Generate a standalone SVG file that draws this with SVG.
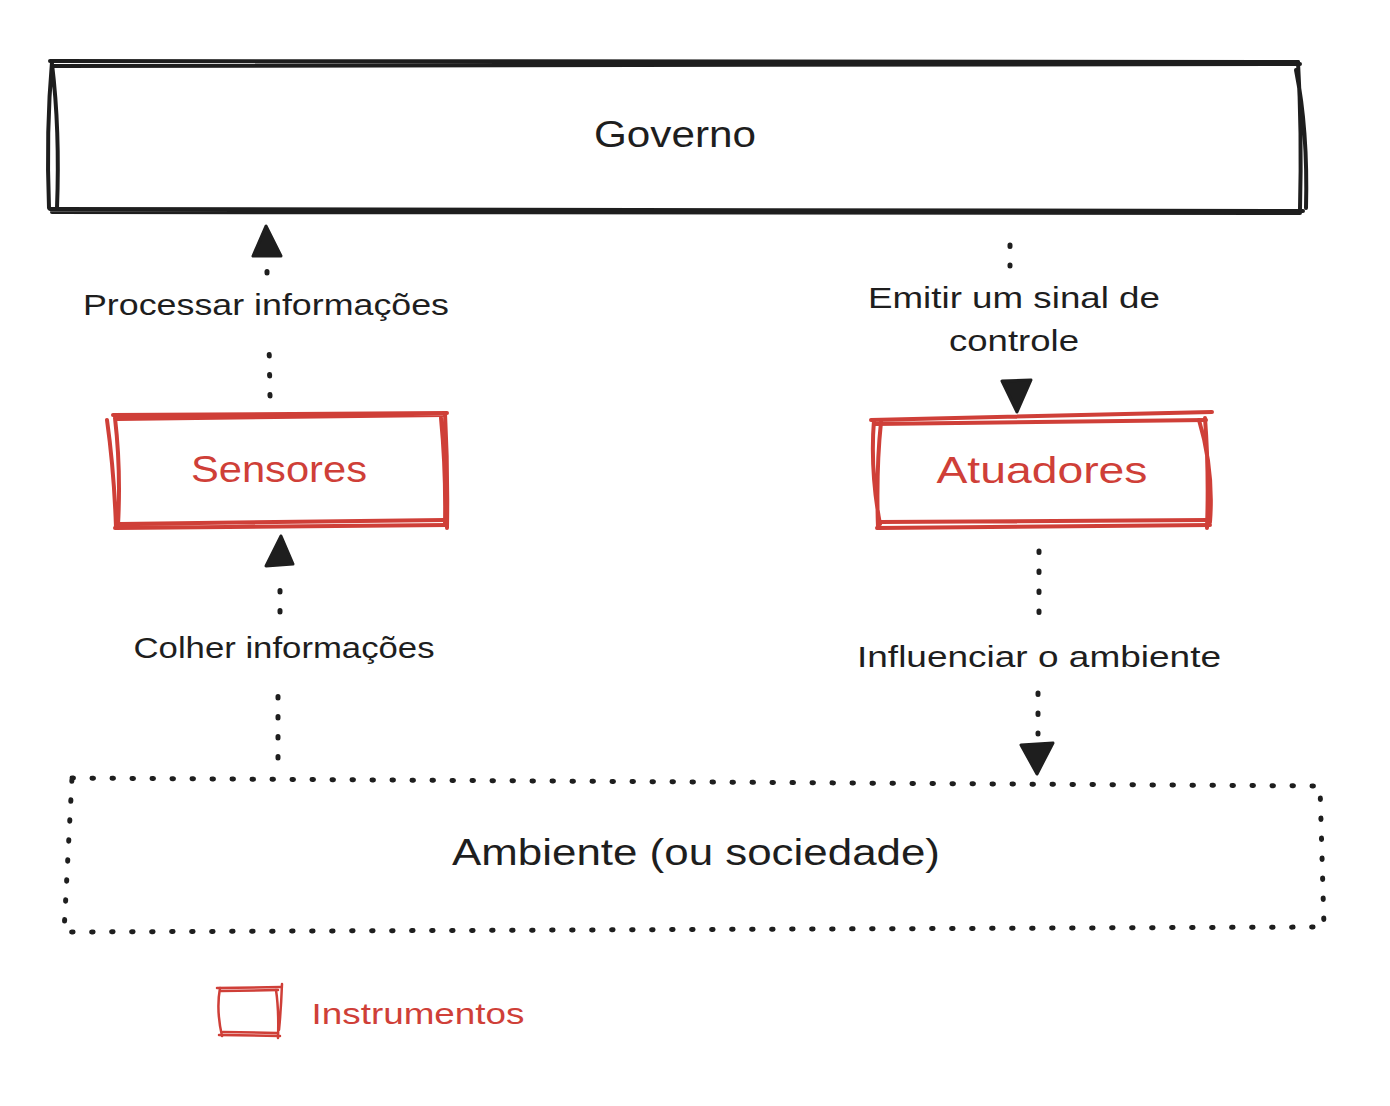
<svg xmlns="http://www.w3.org/2000/svg" width="1390" height="1106" viewBox="0 0 1390 1106">
<style>
.blk{fill:none;stroke:#1e1e1e;stroke-width:4;stroke-linecap:round;stroke-linejoin:round}
.red{fill:none;stroke:#cf3f38;stroke-width:4;stroke-linecap:round;stroke-linejoin:round}
.redt{fill:none;stroke:#cf3f38;stroke-width:2.5;stroke-linecap:round;stroke-linejoin:round}
.dot{fill:none;stroke:#1e1e1e;stroke-width:5;stroke-linecap:round;stroke-dasharray:1.5 18.5}
.head{fill:#1e1e1e;stroke:#1e1e1e;stroke-width:3;stroke-linejoin:round}
text{font-family:"Liberation Sans","DejaVu Sans",sans-serif;text-anchor:middle;dominant-baseline:central}
.lbl{font-size:29px;fill:#1e1e1e}
.big{font-size:36px;fill:#1e1e1e}
.rt{font-size:36px;fill:#cf3f38}
</style>
<rect width="1390" height="1106" fill="#ffffff"/>
<g id="governo">
<path class="blk" d="M50 61 L1298 62 M52 66 L1300 64 M50 209 L1303 211 M52 212 L1300 213"/>
<path class="blk" d="M52 62 Q46 130 49 208 M52 64 Q60 130 57 208"/>
<path class="blk" d="M1298 62 Q1302 130 1300 210 M1296 70 Q1308 130 1306 208"/>
<text class="big" x="675" y="134" textLength="162" lengthAdjust="spacingAndGlyphs">Governo</text>
</g>
<g id="sensores">
<path class="red" d="M113 415 L447 413 M117 419 L443 415 M115 528 L447 525 M120 524 L445 520"/>
<path class="red" d="M115 418 Q121 470 118 525 M107 420 Q114 470 116 527 M445 413 Q448 470 447 528 M441 418 Q446 470 445 525"/>
<text class="rt" x="279" y="469" textLength="176" lengthAdjust="spacingAndGlyphs">Sensores</text>
</g>
<g id="atuadores">
<path class="red" d="M871 420 L1212 412 M875 424 L1206 420 M877 528 L1210 525 M880 522 L1208 520"/>
<path class="red" d="M874 420 Q870 470 880 524 M881 422 Q876 470 878 528 M1205 418 Q1209 470 1207 528 M1199 420 Q1214 470 1210 522"/>
<text class="rt" x="1042" y="470" textLength="211" lengthAdjust="spacingAndGlyphs">Atuadores</text>
</g>
<g id="ambiente">
<path class="dot" d="M72 778 L1320 786 L1324 927 L64 932 L72 778"/>
<text class="big" x="696" y="852" textLength="488" lengthAdjust="spacingAndGlyphs">Ambiente (ou sociedade)</text>
</g>
<g id="legenda">
<path class="redt" d="M217 988 L281 987 M221 991 L278 990 M219 1035 L280 1036 M223 1032 L277 1033"/>
<path class="redt" d="M220 988 Q216 1010 222 1036 M276 990 Q279 1010 278 1038 M282 984 Q281 1010 279 1030"/>
<text x="418" y="1014" style="font-size:29px;fill:#cf3f38" textLength="213" lengthAdjust="spacingAndGlyphs">Instrumentos</text>
</g>
<g id="connectors">
<path class="dot" d="M270 396 L269 342"/>
<path class="dot" d="M267 273 L267 262"/>
<path class="head" d="M266 226 L253 256 L281 256 Z"/>
<path class="dot" d="M278 758 L278 682"/>
<path class="dot" d="M280 612 L280 572"/>
<path class="head" d="M281 536 L266 566 L293 564 Z"/>
<path class="dot" d="M1010 245 L1010 266"/>
<path class="head" d="M1017 412 L1002 381 L1031 380 Z"/>
<path class="dot" d="M1039 551 L1039 625"/>
<path class="dot" d="M1038 693 L1038 734"/>
<path class="head" d="M1037 774 L1021 745 L1053 743 Z"/>
<text class="lbl" x="266" y="305" textLength="366" lengthAdjust="spacingAndGlyphs">Processar informações</text>
<text class="lbl" x="284" y="648" textLength="301" lengthAdjust="spacingAndGlyphs">Colher informações</text>
<text class="lbl" x="1014" y="298" textLength="292" lengthAdjust="spacingAndGlyphs">Emitir um sinal de</text>
<text class="lbl" x="1014" y="341" textLength="130" lengthAdjust="spacingAndGlyphs">controle</text>
<text class="lbl" x="1039" y="657" textLength="364" lengthAdjust="spacingAndGlyphs">Influenciar o ambiente</text>
</g>
</svg>
